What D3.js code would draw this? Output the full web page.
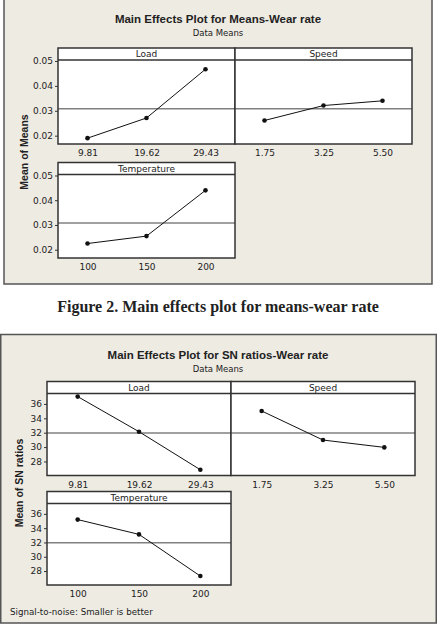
<!DOCTYPE html>
<html>
<head>
<meta charset="utf-8">
<script src="https://cdn.jsdelivr.net/npm/d3@7"></script>
<style>
  body { margin: 0; background: #fff; }
  svg { display: block; }
  text { font-family: "DejaVu Sans", Verdana, sans-serif; fill: #222; }
  .domain { display: none; }
</style>
</head>
<body>
<svg id="chart" width="442" height="626"></svg>
<script>
// factor levels (tick labels)
var loadLevels = ["9.81", "19.62", "29.43"];
var speedLevels = ["1.75", "3.25", "5.50"];
var tempLevels = ["100", "150", "200"];

// means of wear rate
var meansLoad = [0.0190, 0.0271, 0.0467];
var meansSpeed = [0.0261, 0.0321, 0.0340];
var meansTemp = [0.0225, 0.0255, 0.0440];
var meansTicks = [0.02, 0.03, 0.04, 0.05];

// SN ratios
var snLoad = [37.02, 32.14, 26.85];
var snSpeed = [35.02, 30.98, 29.96];
var snTemp = [35.20, 33.13, 27.30];
var snTicks = [28, 30, 32, 34, 36];

var svg = d3.select('#chart');

function drawFigure(o) {
  var g = svg.append('g');

  g.append('rect')
      .attr('x', o.box[0]).attr('y', o.box[1])
      .attr('width', o.box[2]).attr('height', o.box[3])
      .attr('fill', '#eeebe3')
      .attr('stroke', '#555')
      .attr('stroke-width', 1.5);

  g.append('text')
      .attr('x', o.cx).attr('y', o.titleY)
      .attr('text-anchor', 'middle')
      .style('font-family', '"Liberation Sans", Arial, sans-serif')
      .style('font-size', '11.5px')
      .style('font-weight', 'bold')
      .attr('fill', '#111')
      .text(o.title);

  g.append('text')
      .attr('x', o.cx).attr('y', o.titleY + 13)
      .attr('text-anchor', 'middle')
      .style('font-size', '8.5px')
      .text('Data Means');

  var all = [];
  o.panels.forEach(function(p) { all = all.concat(p.values); });
  var grand = d3.mean(all);

  o.panels.forEach(function(p) {
    var y = d3.scaleLinear().domain(o.yDomain).range([p.bottom, p.top + o.strip]);
    var x = d3.scalePoint().domain(p.levels).range([p.x0, p.x1]).padding(0.5);

    var pg = g.append('g');
    pg.append('rect')
        .attr('x', p.x0).attr('y', p.top)
        .attr('width', p.x1 - p.x0).attr('height', p.bottom - p.top)
        .attr('fill', '#fff');

    // grand mean reference line
    pg.append('line')
        .attr('x1', p.x0).attr('x2', p.x1)
        .attr('y1', y(grand)).attr('y2', y(grand))
        .attr('stroke', '#808080')
        .attr('stroke-width', 1.5);

    var pts = p.levels.map(function(l, i) { return [x(l), y(p.values[i])]; });
    pg.append('path')
        .attr('d', d3.line()(pts))
        .attr('fill', 'none')
        .attr('stroke', '#111')
        .attr('stroke-width', 1);
    pg.selectAll('circle').data(pts).enter().append('circle')
        .attr('cx', function(d) { return d[0]; })
        .attr('cy', function(d) { return d[1]; })
        .attr('r', 2.3)
        .attr('fill', '#111');

    // strip
    pg.append('line')
        .attr('x1', p.x0).attr('x2', p.x1)
        .attr('y1', p.top + o.strip).attr('y2', p.top + o.strip)
        .attr('stroke', '#333')
        .attr('stroke-width', 1.5);
    pg.append('text')
        .attr('x', (p.x0 + p.x1) / 2).attr('y', p.top + o.strip - 2.8)
        .attr('text-anchor', 'middle')
        .style('font-size', '9px')
        .text(p.name);

    pg.append('rect')
        .attr('x', p.x0).attr('y', p.top)
        .attr('width', p.x1 - p.x0).attr('height', p.bottom - p.top)
        .attr('fill', 'none')
        .attr('stroke', '#333')
        .attr('stroke-width', 1.5);

    var xa = pg.append('g')
        .attr('transform', 'translate(0,' + p.bottom + ')')
        .call(d3.axisBottom(x).tickSize(0).tickPadding(6));
    xa.selectAll('text').style('font-size', '9px').attr('fill', '#222');

    if (p.yAxis) {
      var ya = pg.append('g')
          .attr('transform', 'translate(' + p.x0 + ',0)')
          .call(d3.axisLeft(y).tickValues(o.ticks).tickFormat(o.fmt).tickSize(3).tickPadding(2));
      ya.selectAll('line').attr('stroke', '#333');
      ya.selectAll('text').style('font-size', '9px').attr('fill', '#222');
    }
  });

  g.append('text')
      .attr('transform', 'translate(' + o.ylab[0] + ',' + o.ylab[1] + ') rotate(-90)')
      .attr('text-anchor', 'middle')
      .style('font-family', '"Liberation Sans", Arial, sans-serif')
      .style('font-size', '10.5px')
      .style('font-weight', 'bold')
      .attr('fill', '#111')
      .text(o.ylabel);

  if (o.note) {
    g.append('text')
        .attr('x', 10).attr('y', o.note[1])
        .style('font-size', '8.7px')
        .text(o.note[0]);
  }
}

drawFigure({
  box: [4, -2, 428, 286],
  cx: 218,
  titleY: 23,
  title: 'Main Effects Plot for Means-Wear rate',
  yDomain: [0.01665, 0.0504],
  ticks: meansTicks,
  fmt: d3.format('.2f'),
  strip: 12,
  ylabel: 'Mean of Means',
  ylab: [28, 152],
  panels: [
    { name: 'Load', levels: loadLevels, values: meansLoad, x0: 58, x1: 235, top: 48, bottom: 144, yAxis: true },
    { name: 'Speed', levels: speedLevels, values: meansSpeed, x0: 235, x1: 412, top: 48, bottom: 144 },
    { name: 'Temperature', levels: tempLevels, values: meansTemp, x0: 58, x1: 235, top: 162.5, bottom: 258, yAxis: true }
  ]
});

svg.append('text')
    .attr('x', 218).attr('y', 312)
    .attr('text-anchor', 'middle')
    .style('font-family', '"Liberation Serif", "Times New Roman", serif')
    .style('font-size', '16px')
    .style('font-weight', 'bold')
    .attr('fill', '#000')
    .text('Figure 2. Main effects plot for means-wear rate');

drawFigure({
  box: [0.75, 334.5, 435.5, 288.5],
  cx: 218,
  titleY: 359,
  title: 'Main Effects Plot for SN ratios-Wear rate',
  yDomain: [26.05, 37.45],
  ticks: snTicks,
  fmt: d3.format('d'),
  strip: 12,
  ylabel: 'Mean of SN ratios',
  ylab: [23, 483],
  note: ['Signal-to-noise: Smaller is better', 615],
  panels: [
    { name: 'Load', levels: loadLevels, values: snLoad, x0: 47, x1: 231, top: 381.5, bottom: 475.5, yAxis: true },
    { name: 'Speed', levels: speedLevels, values: snSpeed, x0: 231, x1: 415, top: 381.5, bottom: 475.5 },
    { name: 'Temperature', levels: tempLevels, values: snTemp, x0: 47, x1: 231, top: 491.5, bottom: 585, yAxis: true }
  ]
});
</script>
</body>
</html>
